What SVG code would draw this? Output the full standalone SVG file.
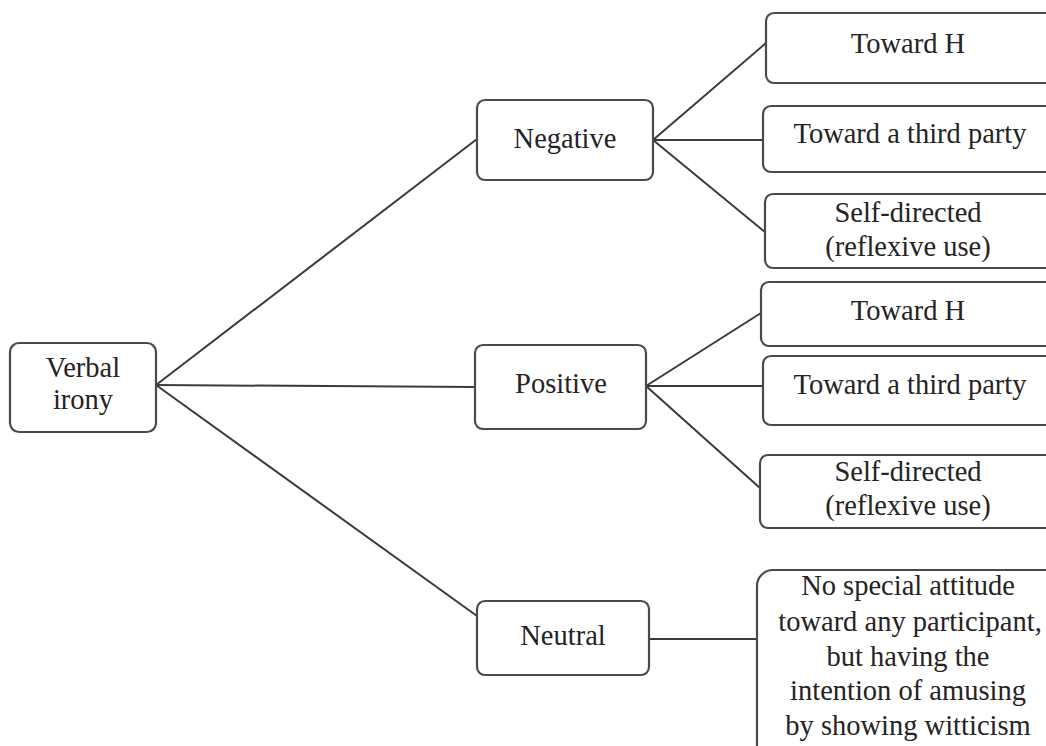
<svg xmlns="http://www.w3.org/2000/svg" width="1046" height="746" viewBox="0 0 1046 746">
<style>
.box{fill:#fff;stroke:#4a4a4a;stroke-width:2.2}
.t{font-family:"Liberation Serif","Times New Roman",serif;font-size:28.5px;fill:#262324;text-anchor:middle}
.c{stroke:#3a3a3a;stroke-width:2;fill:none}
</style>
<rect width="1046" height="746" fill="#fff"/>
<g id="connectors">
<line class="c" x1="156" y1="385" x2="477" y2="139"/>
<line class="c" x1="156" y1="385" x2="475" y2="387"/>
<line class="c" x1="156" y1="385" x2="477" y2="616"/>
<line class="c" x1="653" y1="140" x2="766" y2="43"/>
<line class="c" x1="653" y1="140" x2="764" y2="140"/>
<line class="c" x1="653" y1="140" x2="765" y2="232"/>
<line class="c" x1="646" y1="386" x2="761" y2="313"/>
<line class="c" x1="646" y1="386" x2="763" y2="386"/>
<line class="c" x1="646" y1="386" x2="760" y2="488"/>
<line class="c" x1="649" y1="639" x2="757" y2="639"/>
</g>
<g id="verbal-irony">
<rect class="box" x="10" y="343" width="146" height="89" rx="9"/>
<text class="t" x="83" y="377">Verbal</text>
<text class="t" x="83" y="409">irony</text>
</g>
<g id="negative">
<rect class="box" x="477" y="100" width="176" height="80" rx="8"/>
<text class="t" x="565" y="148">Negative</text>
</g>
<g id="positive">
<rect class="box" x="475" y="345" width="171" height="84" rx="8"/>
<text class="t" x="561" y="393">Positive</text>
</g>
<g id="neutral">
<rect class="box" x="477" y="601" width="172" height="74" rx="8"/>
<text class="t" x="563" y="645">Neutral</text>
</g>
<g id="neg-toward-h">
<rect class="box" x="766" y="13" width="300" height="70" rx="8"/>
<text class="t" x="908" y="53">Toward H</text>
</g>
<g id="neg-third-party">
<rect class="box" x="763" y="106" width="300" height="66" rx="8"/>
<text class="t" x="910" y="143">Toward a third party</text>
</g>
<g id="neg-self-directed">
<rect class="box" x="765" y="194" width="300" height="74" rx="8"/>
<text class="t" x="908" y="222">Self-directed</text>
<text class="t" x="908" y="256">(reflexive use)</text>
</g>
<g id="pos-toward-h">
<rect class="box" x="761" y="282" width="300" height="64" rx="8"/>
<text class="t" x="908" y="320">Toward H</text>
</g>
<g id="pos-third-party">
<rect class="box" x="763" y="356" width="300" height="69" rx="8"/>
<text class="t" x="910" y="394">Toward a third party</text>
</g>
<g id="pos-self-directed">
<rect class="box" x="760" y="455" width="300" height="73" rx="8"/>
<text class="t" x="908" y="481">Self-directed</text>
<text class="t" x="908" y="515">(reflexive use)</text>
</g>
<g id="neutral-desc">
<rect class="box" x="757" y="570" width="310" height="200" rx="16"/>
<text class="t" x="908" y="595">No special attitude</text>
<text class="t" x="910" y="631">toward any participant,</text>
<text class="t" x="908" y="666">but having the</text>
<text class="t" x="908" y="700">intention of amusing</text>
<text class="t" x="908" y="735">by showing witticism</text>
</g>
</svg>
